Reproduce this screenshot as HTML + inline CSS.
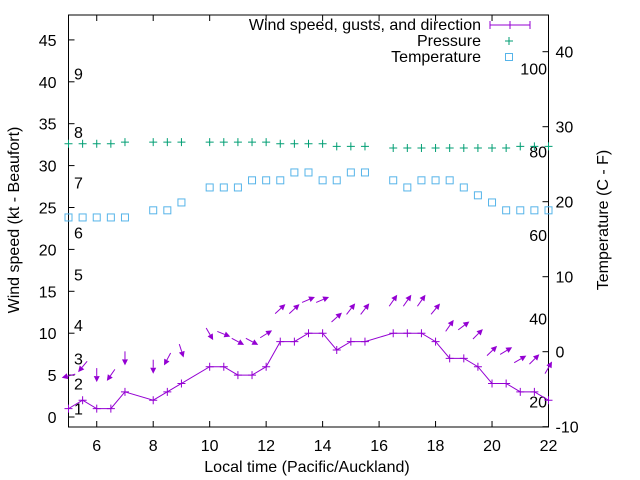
<!DOCTYPE html>
<html><head><meta charset="utf-8"><style>
body{margin:0;background:#fff;}
svg{display:block;font-family:"Liberation Sans",sans-serif;}
</style></head><body>
<svg id="chart" width="640" height="480" xmlns="http://www.w3.org/2000/svg">
<g id="axes"></g>
<g id="marks"></g>
<g id="legend">
 <text x="481" y="30" text-anchor="end" font-size="16">Wind speed, gusts, and direction</text>
 <line x1="490" y1="25" x2="530" y2="25" stroke="#9400d3"/>
 <line x1="490" y1="21" x2="490" y2="29" stroke="#9400d3"/>
 <line x1="530" y1="21" x2="530" y2="29" stroke="#9400d3"/>
 <line x1="510" y1="21" x2="510" y2="29" stroke="#9400d3"/>
 <text x="481" y="46" text-anchor="end" font-size="16">Pressure</text>
 <path d="M505 41h8M509 37v8" stroke="#009e73"/>
 <text x="481" y="62" text-anchor="end" font-size="16">Temperature</text>
 <rect x="505.5" y="53.5" width="7" height="7" fill="none" stroke="#56b4e9"/>
</g>
</svg>
<script>
const times=[5,5.5,6,6.5,7,8,8.5,9,10,10.5,11,11.5,12,12.5,13,13.5,14,14.5,15,15.5,16.5,17,17.5,18,18.5,19,19.5,20,20.5,21,21.5,22];
const speed=[1,2,1,1,3,2,3,4,6,6,5,5,6,9,9,10,10,8,9,9,10,10,10,9,7,7,6,4,4,3,3,2];
const gust=[4.9,6,5,5,7,6,6.9,7.9,9.9,9.9,9,9,9.9,12.9,12.9,14,14,11.9,12.9,12.9,13.9,13.9,13.9,12.9,10.9,10.9,9.9,7.9,7.9,6.9,6.9,5.9];
const heading=[255,220,180,215,180,180,208,162,150,112,118,118,58,47,47,67,67,48,38,38,35,35,35,40,35,53,45,46,59,60,45,30];
const pressure=[32.6,32.6,32.6,32.6,32.8,32.8,32.8,32.8,32.8,32.8,32.8,32.8,32.8,32.6,32.6,32.6,32.6,32.3,32.3,32.3,32.1,32.1,32.1,32.1,32.1,32.1,32.1,32.1,32.1,32.3,32.3,32.3];
const tempC=[17.9,17.9,17.9,17.9,17.9,18.85,18.85,19.9,21.9,21.9,21.9,22.85,22.85,22.85,23.9,23.9,22.85,22.85,23.9,23.9,22.85,21.9,22.85,22.85,22.85,21.9,20.85,19.9,18.85,18.85,18.85,18.85];
const xTicks=[6,8,10,12,14,16,18,20,22];
const yTicks=[0,5,10,15,20,25,30,35,40,45];
const y2Ticks=[-10,0,10,20,30,40];
const beaufort=[1,4,7,11,17,22,28,34,41];
const fahr=[20,40,60,80,100];

const L=68.5,R=548.5,T=15,B=427,FS=16;
const X=t=>L+(t-5)*(R-L)/17;
const Y=v=>417-v*8.38;
const Y2=c=>351.7-c*7.5;
const NS="http://www.w3.org/2000/svg";
function mk(tag,attrs,parent,txt){const e=document.createElementNS(NS,tag);for(const k in attrs)e.setAttribute(k,attrs[k]);if(txt!==undefined)e.textContent=txt;parent.appendChild(e);return e;}
const ax=document.getElementById('axes'),mg=document.getElementById('marks');

let f=mk('rect',{x:L,y:T,width:R-L,height:B-T,fill:'none',stroke:'#000'},ax);


xTicks.forEach(t=>{
 let l=mk('path',{d:`M${X(t)} ${B}v-6M${X(t)} ${T}v6`,stroke:'#000'},ax);
 
 
 let s=mk('text',{x:X(t),y:B+24,'text-anchor':'middle','font-size':FS},ax,String(t));
 
 
});
yTicks.forEach(v=>{
 let l=mk('path',{d:`M${L} ${Y(v)}h6`,stroke:'#000'},ax);
 
 
 let s=mk('text',{x:L-12,y:Y(v)+6,'text-anchor':'end','font-size':FS},ax,String(v));
 
 
});
y2Ticks.forEach(v=>{
 let l=mk('path',{d:`M${R} ${Y2(v)}h-6`,stroke:'#000'},ax);
 
 
 let s=mk('text',{x:R+7,y:Y2(v)+6,'font-size':FS},ax,String(v));
 
 
});
beaufort.forEach((v,i)=>{
 let s=mk('text',{x:74,y:Y(v)+6,'font-size':FS},ax,String(i+1));
 
 
});
fahr.forEach(F=>{
 let s=mk('text',{x:547,y:Y2((F-32)*5/9)+6,'text-anchor':'end','font-size':FS},ax,String(F));
 
 
});
let xt=mk('text',{x:307,y:472,'text-anchor':'middle','font-size':FS},ax,'Local time (Pacific/Auckland)');


let yt=mk('text',{x:0,y:0,'text-anchor':'middle','font-size':FS,transform:'translate(19,220) rotate(-90)'},ax,'Wind speed (kt - Beaufort)');


let y2t=mk('text',{x:0,y:0,'text-anchor':'middle','font-size':FS,transform:'translate(608,220) rotate(-90)'},ax,'Temperature (C - F)');



let pl=mk('polyline',{points:times.map((t,i)=>X(t)+','+Y(speed[i])).join(' '),fill:'none',stroke:'#9400d3'},mg);


times.forEach((t,i)=>{
 let p=mk('path',{d:`M${X(t)-4} ${Y(speed[i])}h8M${X(t)} ${Y(speed[i])-4}v8`,stroke:'#9400d3'},mg);
 
 
});
times.forEach((t,i)=>{
 const b=heading[i]*Math.PI/180,dx=Math.sin(b),dy=-Math.cos(b),len=14;
 const cx=X(t),cy=Y(gust[i]);
 const x1=cx-dx*len/2,y1=cy-dy*len/2,x2=cx+dx*len/2,y2=cy+dy*len/2;
 const px=-dy,py=dx;
 const hx=x2-dx*6,hy=y2-dy*6;
 const g=mk('g',{},mg);
 
 
 mk('line',{x1,y1,x2:hx,y2:hy,stroke:'#9400d3','stroke-width':1},g);
 mk('polygon',{points:`${x2},${y2} ${hx+px*3},${hy+py*3} ${hx-px*3},${hy-py*3}`,fill:'#9400d3'},g);
});
times.forEach((t,i)=>{
 let p=mk('path',{d:`M${X(t)-4} ${Y(pressure[i])}h8M${X(t)} ${Y(pressure[i])-4}v8`,stroke:'#009e73'},mg);
 
 
});
times.forEach((t,i)=>{
 let r=mk('rect',{x:X(t)-3.5,y:Y2(tempC[i])-3.5,width:7,height:7,fill:'none',stroke:'#56b4e9'},mg);
 
 
});
</script>
</body></html>
